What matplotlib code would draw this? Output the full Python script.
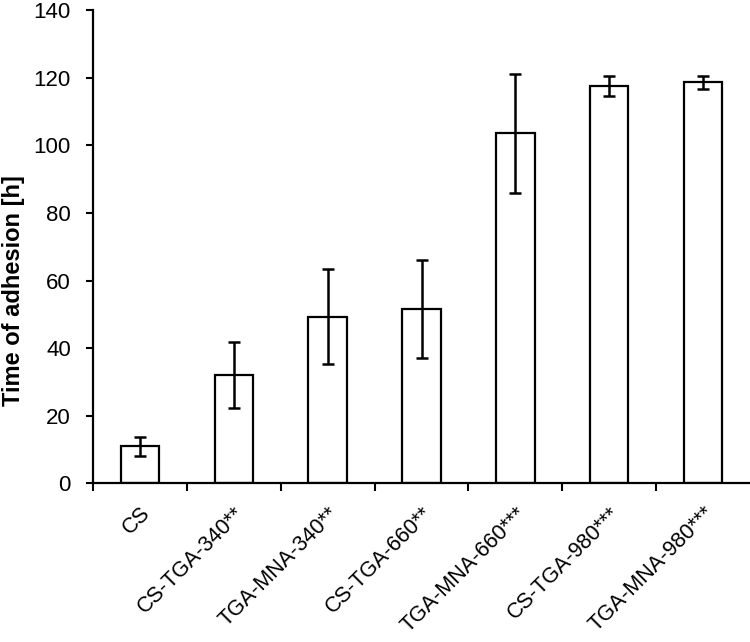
import matplotlib
matplotlib.use("Agg")
import matplotlib.pyplot as plt
import numpy as np

categories = ["CS", "CS-TGA-340**", "TGA-MNA-340**", "CS-TGA-660**",
              "TGA-MNA-660***", "CS-TGA-980***", "TGA-MNA-980***"]
values = [11.0, 32.0, 49.3, 51.6, 103.5, 117.6, 118.6]
errors = [2.8, 9.8, 14.0, 14.6, 17.5, 3.0, 1.9]
yticks = [0, 20, 40, 60, 80, 100, 120, 140]

plt.rcParams['font.family'] = ['Liberation Sans', 'DejaVu Sans']

fig = plt.figure(figsize=(7.5, 6.42), dpi=100)
ax = fig.add_axes([0.124, 0.247, 0.876, 0.7375])

x = np.arange(len(categories))
ax.bar(x, values, width=0.41, color='white', edgecolor='black', linewidth=1.6,
       zorder=2)
ax.errorbar(x, values, yerr=errors, fmt='none', ecolor='black', elinewidth=1.8,
            capsize=4, capthick=1.8, zorder=3)

ax.set_xlim(-0.5, len(categories) - 0.5)
ax.set_ylim(0, 140)
ax.set_yticks(yticks)
ax.set_yticklabels([str(t) for t in yticks], fontsize=16)
ax.tick_params(axis='y', direction='out', length=5, width=1.5, pad=11)

ax.set_xticks(x)
ax.set_xticklabels(categories, rotation=45, ha='right', rotation_mode='anchor',
                   fontsize=15.5)
ax.tick_params(axis='x', which='major', length=0, pad=14)
ax.set_xticks(np.arange(-0.5, len(categories) - 0.5, 1.0), minor=True)
ax.tick_params(axis='x', which='minor', direction='out', length=6, width=1.5)

for s in ['top', 'right']:
    ax.spines[s].set_visible(False)
for s in ['left', 'bottom']:
    ax.spines[s].set_linewidth(1.6)

ax.set_ylabel("Time of adhesion [h]", fontsize=17, fontweight='bold')
ax.yaxis.set_label_coords(-0.103, 0.408)

fig.savefig("out.png", dpi=100)
